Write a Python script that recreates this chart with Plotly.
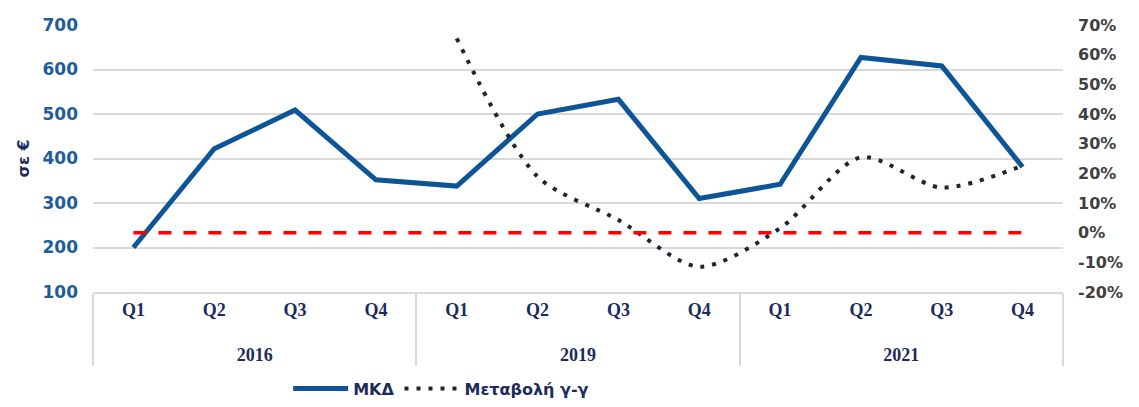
import plotly.graph_objects as go

years = ["2016"] * 4 + ["2019"] * 4 + ["2021"] * 4
quarters = ["Q1", "Q2", "Q3", "Q4"] * 3
mkd = [200, 422, 509, 352, 338, 500, 533, 310, 342, 627, 608, 381]
yoy = [None, None, None, None, 65.5, 18.9, 4.3, -11.5, 1.5, 25.4, 15.2, 22.6]
zero_line = [0] * 12
left_ticks = [100, 200, 300, 400, 500, 600, 700]
right_tickvals = [-20, -10, 0, 10, 20, 30, 40, 50, 60, 70]
right_ticktext = ["-20%", "-10%", "0%", "10%", "20%", "30%", "40%", "50%", "60%", "70%"]

BLUE = "#0D5596"
NAVY = "#1C2B5C"
# an empty first line drops the year labels one row lower, as in the reference
x = [["<br>" + y for y in years], quarters]

fig = go.Figure()
fig.add_trace(go.Scatter(
    x=x, y=mkd, name="ΜΚΔ", mode="lines",
    line=dict(color=BLUE, width=5), yaxis="y"))
fig.add_trace(go.Scatter(
    x=x, y=yoy, name="Μεταβολή γ-γ", mode="lines",
    line=dict(color="#1F2530", width=4, dash="4px,8px", shape="spline", smoothing=0.8),
    yaxis="y2"))
fig.add_trace(go.Scatter(
    x=x, y=zero_line, name="0", mode="lines", showlegend=False,
    line=dict(color="#FF0000", width=3.5, dash="13px,12px"), yaxis="y2"))

fig.update_layout(
    width=1139, height=407,
    margin=dict(l=93, r=76, t=25, b=115, autoexpand=False),
    paper_bgcolor="white", plot_bgcolor="white",
    showlegend=True,
    legend=dict(orientation="h", xref="container", x=0.253, xanchor="left",
                yref="container", y=0.045, yanchor="middle",
                font=dict(family="DejaVu Sans", size=16, color=NAVY, weight="bold"),
                itemwidth=55, tracegroupgap=0, bgcolor="rgba(0,0,0,0)"),
    xaxis=dict(
        type="multicategory", range=[-0.5, 11.5],
        showgrid=False, showline=True, linecolor="#D9D9D9", linewidth=2,
        showdividers=True, dividercolor="#D9D9D9", dividerwidth=2,
        tickfont=dict(family="Liberation Serif", size=18, color=NAVY, weight="bold"),
        ticks="outside", ticklen=19, tickcolor="rgba(0,0,0,0)", fixedrange=True),
    yaxis=dict(
        range=[100, 700], tickvals=left_ticks, showgrid=True, gridcolor="#D9D9D9", gridwidth=2,
        zeroline=False, showline=False,
        tickfont=dict(family="DejaVu Sans", size=17, color="#1F5C9C", weight="bold"),
        ticklabelstandoff=14,
        title=dict(text="σε €", standoff=8,
                   font=dict(family="DejaVu Sans", size=16, color=NAVY, weight="bold"))),
    yaxis2=dict(
        range=[-20, 70], tickvals=right_tickvals, ticktext=right_ticktext,
        overlaying="y", side="right", showgrid=False, zeroline=False, showline=False,
        tickfont=dict(family="DejaVu Sans", size=16, color="#404040", weight="bold"),
        ticklabelstandoff=14),
)

fig.write_html("out.html")
